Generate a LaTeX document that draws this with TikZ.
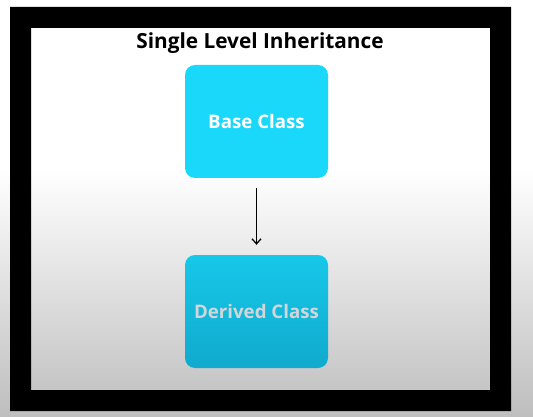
\documentclass[tikz,border=0pt]{standalone}
\usepackage{fontspec}
\setmainfont{Open Sans}
\usetikzlibrary{arrows.meta}
\definecolor{basecyan}{HTML}{19D8FA}
\definecolor{dertop}{HTML}{17C8E8}
\definecolor{derbot}{HTML}{10AACE}
\definecolor{bggrey}{HTML}{BEBEBE}
\definecolor{dertext}{HTML}{D2D6D8}
\tikzset{
  classbox/.style={rounded corners=10pt, minimum width=143pt, minimum height=113pt, inner sep=0pt, font=\bfseries\fontsize{18.7}{20}\selectfont},
  inh/.style={-{Straight Barb[length=5pt,width=9pt]}, line width=1.3pt}
}
\begin{document}
\begin{tikzpicture}[x=1pt,y=-1pt]
\useasboundingbox (0,0) rectangle (533,417);
% background gradient
\fill[white] (0,0) rectangle (533,170);
\shade[top color=white, bottom color=bggrey] (0,170) rectangle (533,417);
% black frame
\fill[black, even odd rule] (10,7) rectangle (511,411) (31,28) rectangle (490,390);
% title
\node[font=\bfseries\fontsize{20.8}{22}\selectfont] (title) at (260,43) {Single Level Inheritance};
% boxes
\node[classbox, fill=basecyan, text=white] (base) at (256.5,121.5) {Base Class};
\node[classbox, top color=dertop, bottom color=derbot, text=dertext] (derived) at (256.5,311.5) {Derived Class};
\draw[inh] ([yshift=-10pt]base.south) -- ([yshift=10pt]derived.north);
\end{tikzpicture}
\end{document}
